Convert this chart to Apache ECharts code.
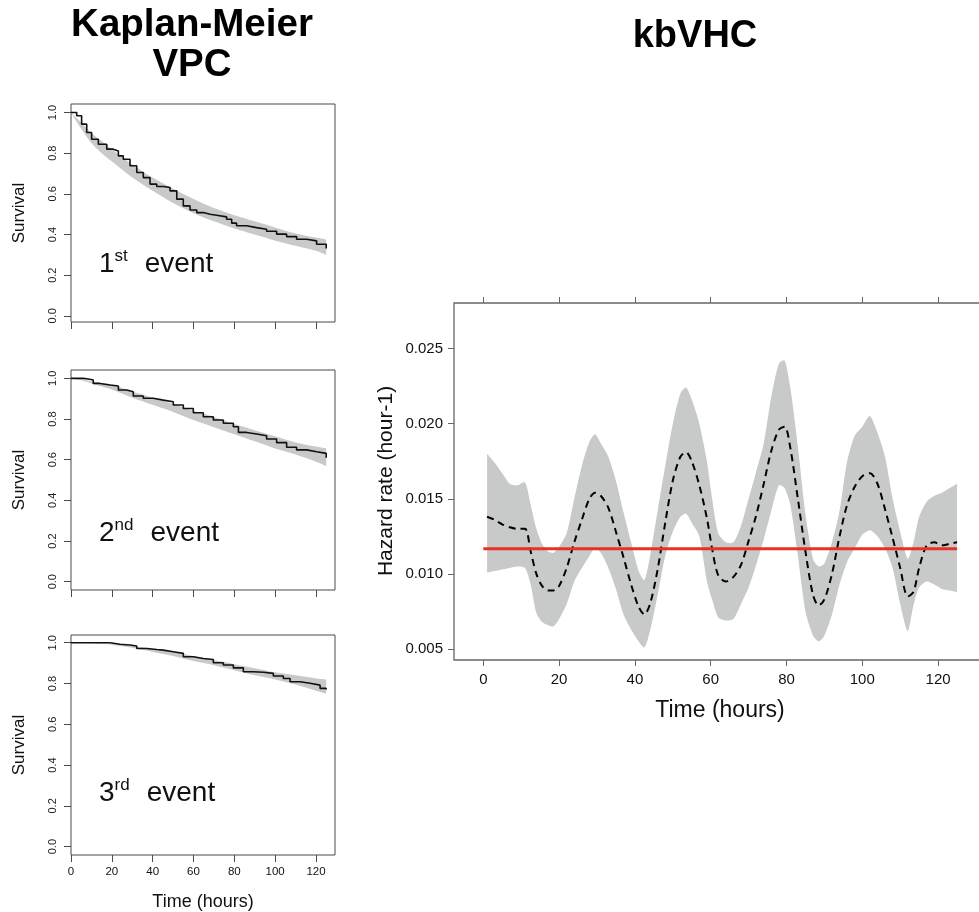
<!DOCTYPE html>
<html><head><meta charset="utf-8">
<script src="https://cdn.jsdelivr.net/npm/echarts@6/dist/echarts.min.js"></script>
<style>html,body{margin:0;padding:0;background:#fff}#c{width:979px;height:912px}</style>
</head><body><div id="c"></div>
<script>
// ---------- Kaplan-Meier VPC data ----------
const kmTime1 = [0,2.8,5.2,7.7,10.1,13.4,17.5,20.7,23.2,25.6,28.9,32.2,35.4,38.7,42,45.2,48.5,51.8,55,58.3,61.6,64.8,68.1,71.3,76.2,78.7,81.1,86,90.9,95.8,100.7,105.6,110.5,115.4,120.3,125];
const kmSurv1 = [1,0.984,0.943,0.902,0.869,0.844,0.82,0.811,0.787,0.77,0.738,0.705,0.68,0.648,0.636,0.631,0.615,0.574,0.541,0.521,0.508,0.5,0.495,0.487,0.475,0.456,0.443,0.434,0.426,0.416,0.402,0.39,0.377,0.369,0.352,0.331];
const kmTime2 = [0,6,8.5,10.9,14.2,19.1,23.2,27.3,30.5,35.4,40.3,45.2,50.1,55,59.9,64.8,69.7,74.6,79.5,82,86,90.9,95.8,100.7,105.6,110.5,115.4,120.3,125];
const kmSurv2 = [1,0.997,0.992,0.975,0.967,0.962,0.943,0.934,0.913,0.902,0.893,0.885,0.869,0.852,0.831,0.811,0.795,0.779,0.762,0.734,0.726,0.718,0.702,0.684,0.661,0.648,0.639,0.631,0.61];
const kmTime3 = [0,15.5,19.1,24,28.9,32.2,37.1,42,45.2,50.1,55,59.9,64.8,69.7,74.6,79.5,84.4,89.3,94.2,99.1,104,107.3,112.2,117.1,122,125];
const kmSurv3 = [1,1,0.993,0.989,0.984,0.972,0.967,0.964,0.956,0.948,0.931,0.923,0.918,0.902,0.891,0.877,0.858,0.855,0.85,0.837,0.825,0.809,0.801,0.792,0.776,0.771];

const bandTime = [0,5,10,15,20,30,40,50,60,70,80,90,100,110,120,125];
const bandLow1 = [1,0.92,0.85,0.80,0.76,0.68,0.615,0.555,0.505,0.465,0.43,0.40,0.37,0.345,0.32,0.30];
const bandUp1  = [1,0.95,0.90,0.86,0.82,0.745,0.68,0.625,0.575,0.53,0.495,0.465,0.435,0.405,0.385,0.375];
const bandLow2 = [1,0.99,0.975,0.96,0.945,0.905,0.87,0.835,0.795,0.76,0.725,0.69,0.655,0.625,0.59,0.569];
const bandUp2  = [1,0.995,0.985,0.977,0.97,0.935,0.905,0.875,0.84,0.81,0.775,0.745,0.715,0.685,0.665,0.656];
const bandLow3 = [1,1,0.998,0.995,0.99,0.975,0.955,0.935,0.91,0.89,0.865,0.84,0.82,0.795,0.765,0.75];
const bandUp3  = [1,1,1,0.998,0.995,0.985,0.97,0.955,0.935,0.915,0.895,0.875,0.855,0.84,0.825,0.82];

const survTicks = [0,0.2,0.4,0.6,0.8,1.0];
const timeTicks = [0,20,40,60,80,100,120];
const eventLabels = [['1','st'],['2','nd'],['3','rd']];

// ---------- kbVHC data ----------
const hazTime = [1,3,5,7,9,11,12.5,14,15.5,17,18.5,20,22,24,26,28,29.5,31,33,35,37,39,41,42.5,44,46,48,50,52,53.5,55,57,59,60.5,62,64,66,68,70,72,74,76,78,79.5,81,83,85,87,88.5,90,92,94,96,98,100,102,104,106,108,110,112,113.5,115,117,119,121,123,125];
const hazMean = [0.0138,0.0136,0.0133,0.0131,0.0130,0.0130,0.0115,0.0100,0.0092,0.0089,0.0089,0.0092,0.0104,0.0121,0.0136,0.0150,0.0154,0.0152,0.0144,0.0128,0.0111,0.0093,0.0078,0.0073,0.0080,0.0103,0.0134,0.0162,0.0178,0.0181,0.0175,0.0159,0.0137,0.0115,0.0099,0.0095,0.0098,0.0106,0.0122,0.0139,0.0160,0.0182,0.0196,0.0198,0.0184,0.0150,0.0115,0.0086,0.0079,0.0083,0.0100,0.0125,0.0146,0.0158,0.0165,0.0167,0.0160,0.0143,0.0124,0.0104,0.0085,0.0088,0.0104,0.0119,0.0121,0.0119,0.0120,0.0121];
const hazUpper = [0.0180,0.0174,0.0167,0.0160,0.0159,0.0161,0.0146,0.0130,0.0120,0.0115,0.0114,0.0118,0.0127,0.0150,0.0172,0.0188,0.0193,0.0187,0.0178,0.0162,0.0141,0.0121,0.0102,0.0096,0.0112,0.0142,0.0172,0.0200,0.0220,0.0224,0.0216,0.0200,0.0175,0.0148,0.0127,0.0121,0.0121,0.0132,0.0150,0.0168,0.0187,0.0218,0.0240,0.0242,0.0224,0.0185,0.0140,0.0110,0.0105,0.0107,0.0121,0.0142,0.0175,0.0192,0.0198,0.0205,0.0194,0.0178,0.0150,0.0128,0.0110,0.0121,0.0138,0.0148,0.0152,0.0154,0.0157,0.0160];
const hazLower = [0.0101,0.0102,0.0103,0.0104,0.0105,0.0104,0.0093,0.0074,0.0068,0.0066,0.0065,0.0070,0.0080,0.0095,0.0104,0.0112,0.0117,0.0114,0.0104,0.0090,0.0073,0.0063,0.0055,0.0051,0.0062,0.0086,0.0112,0.0128,0.0138,0.0140,0.0134,0.0125,0.0095,0.0082,0.0071,0.0069,0.0070,0.0080,0.0091,0.0106,0.0123,0.0142,0.0159,0.0157,0.0146,0.0112,0.0075,0.0059,0.0055,0.0059,0.0073,0.0093,0.0108,0.0117,0.0126,0.0129,0.0125,0.0117,0.0104,0.0080,0.0062,0.0079,0.0091,0.0095,0.0093,0.0090,0.0089,0.0088];
const refTime = [0,125];
const refRate = [0.01167,0.01167];
const hazYTicks = [0.005,0.010,0.015,0.020,0.025];

// ---------- build option ----------
const FONT = '"Liberation Sans", Arial, Helvetica, sans-serif';
const pairs = (xs, ys) => xs.map((x, i) => [x, ys[i]]);

function bandSeries(xi, yi, xs, lo, up, color, smooth) {
  return {
    type: 'custom', xAxisIndex: xi, yAxisIndex: yi, silent: true, z: 1,
    data: xs.map((x, i) => [x, lo[i], up[i]]),
    encode: {x: 0, y: [1, 2]},
    renderItem: function (params, api) {
      if (params.dataIndexInside !== 0) return null;
      const n = params.dataInsideLength;
      const top = [], bot = [];
      for (let k = 0; k < n; k++) {
        const x = api.value(0, k);
        top.push(api.coord([x, api.value(2, k)]));
        bot.push(api.coord([x, api.value(1, k)]));
      }
      // repeat the end points so the smoothed outline keeps sharp ends
      const t = [top[0]].concat(top, [top[n - 1]]);
      const b = [bot[0]].concat(bot, [bot[n - 1]]).reverse();
      return {type: 'polygon', shape: {points: t.concat(b), smooth: smooth},
        style: {fill: color}};
    }
  };
}

const leftGrids = [
  {top: 104, height: 218, min: -0.03, max: 1.042},
  {top: 370, height: 220, min: -0.041, max: 1.041},
  {top: 635, height: 220, min: -0.041, max: 1.038}
];
const kmT = [kmTime1, kmTime2, kmTime3];
const kmS = [kmSurv1, kmSurv2, kmSurv3];
const bLo = [bandLow1, bandLow2, bandLow3];
const bUp = [bandUp1, bandUp2, bandUp3];

const grid = [], xAxis = [], yAxis = [], series = [], graphic = [];
const LCOL = '#4a4a4a';
leftGrids.forEach((g, i) => {
  grid.push({left: 71, top: g.top, width: 264, height: g.height, show: true,
    borderColor: LCOL, borderWidth: 1, backgroundColor: 'transparent', outerBoundsMode: 'none'});
  xAxis.push({type: 'value', gridIndex: i, min: 0, max: 129.3,
    axisLine: {show: false, onZero: false}, splitLine: {show: false},
    axisTick: {show: true, length: 7, lineStyle: {color: LCOL}, customValues: timeTicks},
    axisLabel: {show: i === 2, customValues: timeTicks, margin: 11, fontSize: 11.5, color: '#111', fontFamily: FONT}});
  yAxis.push({type: 'value', gridIndex: i, min: g.min, max: g.max,
    axisLine: {show: false, onZero: false}, splitLine: {show: false},
    axisTick: {show: true, length: 7, lineStyle: {color: LCOL}, customValues: survTicks},
    axisLabel: {customValues: survTicks, rotate: 90, margin: 13, fontSize: 11, color: '#222', fontFamily: FONT,
      formatter: v => v.toFixed(1)}});
  series.push(bandSeries(i, i, bandTime, bLo[i], bUp[i], '#c8cac9', 0.3));
  series.push({type: 'line', xAxisIndex: i, yAxisIndex: i, step: 'end', symbol: 'none',
    lineStyle: {color: '#111', width: 1.6}, data: pairs(kmT[i], kmS[i]), z: 3, silent: true});
  const cy = g.top + g.height / 2;
  graphic.push({type: 'text', x: 19, y: cy, rotation: Math.PI / 2,
    style: {text: 'Survival', fontSize: 17, fontFamily: FONT, fill: '#111', align: 'center', verticalAlign: 'middle'}});
  const tops = [248, 517, 777];
  graphic.push({type: 'text', x: 99, y: tops[i],
    style: {text: '{n|' + eventLabels[i][0] + '}{s|' + eventLabels[i][1] + '}{e|event}',
      fontFamily: FONT, fill: '#111', align: 'left', verticalAlign: 'top',
      rich: {
        n: {fontSize: 28, lineHeight: 32, fontFamily: FONT, fill: '#111'},
        s: {fontSize: 17, lineHeight: 19, verticalAlign: 'top', fontFamily: FONT, fill: '#111'},
        e: {fontSize: 28, lineHeight: 32, fontFamily: FONT, fill: '#111', padding: [0, 0, 0, 17]}
      }}});
});

// right panel
const RCOL = '#666';
grid.push({left: 454, top: 303, width: 532, height: 357, show: true,
  borderColor: RCOL, borderWidth: 1.3, backgroundColor: 'transparent', outerBoundsMode: 'none'});
xAxis.push({type: 'value', gridIndex: 3, position: 'bottom', min: -7.73, max: 132.64,
  axisLine: {show: false, onZero: false}, splitLine: {show: false},
  axisTick: {show: true, length: 6, lineStyle: {color: RCOL}, customValues: timeTicks},
  axisLabel: {customValues: timeTicks, margin: 12, fontSize: 15, color: '#111', fontFamily: FONT}});
xAxis.push({type: 'value', gridIndex: 3, position: 'top', min: -7.73, max: 132.64,
  axisLine: {show: false, onZero: false}, splitLine: {show: false},
  axisTick: {show: true, length: 6, lineStyle: {color: RCOL}, customValues: timeTicks},
  axisLabel: {show: false}});
yAxis.push({type: 'value', gridIndex: 3, min: 0.00427, max: 0.02803,
  axisLine: {show: false, onZero: false}, splitLine: {show: false},
  axisTick: {show: true, length: 6, lineStyle: {color: RCOL}, customValues: hazYTicks},
  axisLabel: {customValues: hazYTicks, margin: 11, fontSize: 15, color: '#111', fontFamily: FONT,
    formatter: v => v.toFixed(3)}});
series.push(bandSeries(3, 3, hazTime, hazLower, hazUpper, '#c8c9c9', 0.25));
series.push({type: 'line', xAxisIndex: 3, yAxisIndex: 3, smooth: 0.3, symbol: 'none',
  lineStyle: {color: '#000', width: 2, type: [7, 5]}, data: pairs(hazTime, hazMean), z: 3, silent: true});
series.push({type: 'line', xAxisIndex: 3, yAxisIndex: 3, symbol: 'none',
  lineStyle: {color: '#e8302a', width: 3}, data: pairs(refTime, refRate), z: 4, silent: true});

graphic.push({type: 'text', x: 386, y: 481, rotation: Math.PI / 2,
  style: {text: 'Hazard rate (hour-1)', fontSize: 21, fontFamily: FONT, fill: '#111', align: 'center', verticalAlign: 'middle'}});
graphic.push({type: 'text', x: 720, y: 711,
  style: {text: 'Time (hours)', fontSize: 23, fontFamily: FONT, fill: '#111', align: 'center', verticalAlign: 'middle'}});
graphic.push({type: 'text', x: 203, y: 902,
  style: {text: 'Time (hours)', fontSize: 18, fontFamily: FONT, fill: '#111', align: 'center', verticalAlign: 'middle'}});
graphic.push({type: 'text', x: 192, y: 5,
  style: {text: 'Kaplan-Meier\nVPC', fontSize: 38.5, fontWeight: 'bold', lineHeight: 40, fontFamily: FONT, fill: '#000', align: 'center', verticalAlign: 'top'}});
graphic.push({type: 'text', x: 695, y: 17,
  style: {text: 'kbVHC', fontSize: 38, fontWeight: 'bold', lineHeight: 40, fontFamily: FONT, fill: '#000', align: 'center', verticalAlign: 'top'}});

const chart = echarts.init(document.getElementById('c'), null, {renderer: 'canvas'});
chart.setOption({animation: false, backgroundColor: '#fff', grid, xAxis, yAxis, series, graphic});
</script></body></html>
